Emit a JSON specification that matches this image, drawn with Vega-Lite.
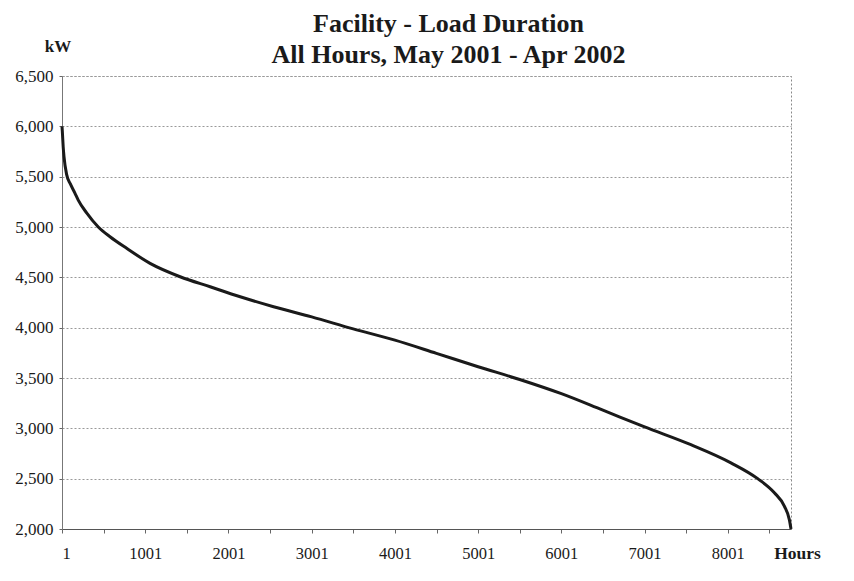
{
  "$schema": "https://vega.github.io/schema/vega-lite/v6.json",
  "autosize": "none",
  "padding": {"left": 62, "top": 76, "right": 63, "bottom": 52},
  "width": 729,
  "height": 453,
  "background": "white",
  "title": {
    "text": ["Facility - Load Duration", "All Hours, May 2001 - Apr 2002"],
    "font": "Liberation Serif",
    "fontSize": 26,
    "fontWeight": "bold",
    "color": "#1a1a1a",
    "lineHeight": 31,
    "anchor": "middle",
    "dx": 22,
    "dy": 65,
    "baseline": "bottom",
    "offset": 8
  },
  "config": {
    "view": {"stroke": "#888", "strokeDash": [2, 2], "strokeWidth": 1}
  },
  "data": {
    "values": [
      {"hour": 1, "kw": 6000},
      {"hour": 5, "kw": 5950},
      {"hour": 15, "kw": 5800},
      {"hour": 25, "kw": 5700},
      {"hour": 57, "kw": 5520},
      {"hour": 100, "kw": 5430},
      {"hour": 156, "kw": 5337},
      {"hour": 196, "kw": 5267},
      {"hour": 297, "kw": 5140},
      {"hour": 437, "kw": 5000},
      {"hour": 578, "kw": 4903},
      {"hour": 778, "kw": 4788},
      {"hour": 1059, "kw": 4639},
      {"hour": 1420, "kw": 4506},
      {"hour": 1781, "kw": 4406},
      {"hour": 2142, "kw": 4307},
      {"hour": 2543, "kw": 4208},
      {"hour": 3001, "kw": 4107},
      {"hour": 3500, "kw": 3988},
      {"hour": 4001, "kw": 3876},
      {"hour": 4500, "kw": 3745},
      {"hour": 5001, "kw": 3612},
      {"hour": 5500, "kw": 3485},
      {"hour": 6001, "kw": 3344},
      {"hour": 6500, "kw": 3180},
      {"hour": 7001, "kw": 3014},
      {"hour": 7557, "kw": 2837},
      {"hour": 8038, "kw": 2657},
      {"hour": 8360, "kw": 2500},
      {"hour": 8560, "kw": 2360},
      {"hour": 8680, "kw": 2227},
      {"hour": 8740, "kw": 2093},
      {"hour": 8760, "kw": 2000}
    ]
  },
  "mark": {"type": "line", "color": "#1a1a1a", "strokeWidth": 3, "interpolate": "monotone"},
  "encoding": {
    "x": {
      "field": "hour",
      "type": "quantitative",
      "scale": {"domain": [1, 8760], "nice": false, "zero": false},
      "axis": {
        "values": [1, 501, 1001, 1501, 2001, 2501, 3001, 3501, 4001, 4501, 5001, 5501, 6001, 6501, 7001, 7501, 8001, 8501],
        "labelExpr": "(datum.value - 1) % 1000 == 0 ? toString(datum.value) : ''",
        "labelFont": "Liberation Serif",
        "labelFontSize": 16.5,
        "labelColor": "#1a1a1a",
        "labelBaseline": "alphabetic",
        "labelPadding": 25,
        "tickSize": 4,
        "tickColor": "#666",
        "domainColor": "#555",
        "grid": false,
        "title": "Hours",
        "titleFont": "Liberation Serif",
        "titleColor": "#1a1a1a",
        "titleFontSize": 17.5,
        "titleFontWeight": "bold",
        "titleAlign": "center",
        "titleBaseline": "alphabetic",
        "titleX": 735,
        "titleY": 29,
        "labelOverlap": false
      }
    },
    "y": {
      "field": "kw",
      "type": "quantitative",
      "scale": {"domain": [2000, 6500], "nice": false, "zero": false},
      "axis": {
        "values": [2000, 2500, 3000, 3500, 4000, 4500, 5000, 5500, 6000, 6500],
        "format": ",.0f",
        "labelFont": "Liberation Serif",
        "labelFontSize": 17,
        "labelColor": "#1a1a1a",
        "labelPadding": 6,
        "tickSize": 3,
        "tickColor": "#666",
        "domainColor": "#777",
        "grid": true,
        "gridColor": "#999",
        "gridDash": [2, 2],
        "gridWidth": 1,
        "title": "kW",
        "titleFont": "Liberation Serif",
        "titleColor": "#1a1a1a",
        "titleAngle": 0,
        "titleFontSize": 17,
        "titleFontWeight": "bold",
        "titleAlign": "center",
        "titleBaseline": "alphabetic",
        "titleX": -4.5,
        "titleY": -25
      }
    }
  }
}
